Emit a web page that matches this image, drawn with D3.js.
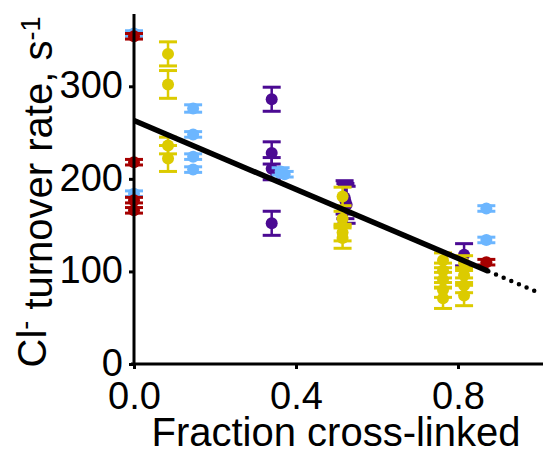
<!DOCTYPE html>
<html><head><meta charset="utf-8">
<script src="https://cdn.jsdelivr.net/npm/d3@7"></script>
<style>body{margin:0;background:#fff}svg{display:block}</style>
</head><body><svg id="c" width="543" height="453"></svg>
<script>
// [fraction cross-linked, turnover rate, error]
const redPts = [[0,354,3],[0,218,3],[0,177,3],[0,166,3],[0.87,110,3]];
const bluePts = [[0,357,3],[0,184,3],[0.146,276,4],[0.146,248,3],[0.146,224,3],[0.146,210,3],[0.362,208,4],[0.372,205,3],[0.87,168,3],[0.87,134,3]];
const yellowPts = [[0.084,335,13],[0.084,302,15],[0.084,236,9],[0.084,222,14],[0.515,181,10],[0.515,157,8],[0.515,142,9],[0.515,136,11],[0.763,112,8],[0.763,101,8],[0.763,91,8],[0.763,80,8],[0.763,71,11],[0.815,109,8],[0.815,96,8],[0.815,85,8],[0.815,74,11]];
const purplePts = [[0.34,286,13],[0.34,228,12],[0.34,211,12],[0.34,152,13],[0.52,180,18],[0.522,176,19],[0.525,172,20],[0.815,118,12]];
const fitIntercept = 263, fitSlope = -186;
const fitSolidX = [0, 0.875], fitDottedX = [0.875, 1.0];
const xTicks = [0, 0.4, 0.8], yTicks = [0, 100, 200, 300];

const svg = d3.select("#c");
const x = d3.scaleLinear().domain([0, 1]).range([134, 539]);
const y = d3.scaleLinear().domain([0, 377]).range([364, 15]);
const font = "'Liberation Sans', Arial, sans-serif";

const series = [
  {pts: purplePts, color: "#4b0a93"},
  {pts: yellowPts, color: "#dccb00"},
  {pts: bluePts, color: "#6cb6ff"},
  {pts: redPts, color: "#a50000"}
];
series.forEach(s => {
  const g = svg.append("g");
  s.pts.forEach(p => {
    const cx = x(p[0]);
    const y1 = y(p[1] + p[2]), y2 = y(p[1] - p[2]);
    g.append("line").attr("x1", cx).attr("x2", cx).attr("y1", y1).attr("y2", y2).attr("stroke", s.color).attr("stroke-width", 2.5);
    [y1, y2].forEach(yy => g.append("line").attr("x1", cx - 9).attr("x2", cx + 9).attr("y1", yy).attr("y2", yy).attr("stroke", s.color).attr("stroke-width", 3));
    g.append("circle").attr("cx", cx).attr("cy", y(p[1])).attr("r", 6).attr("fill", s.color);
  });
});

const fit = v => fitIntercept + fitSlope * v;
svg.append("line").attr("x1", x(fitSolidX[0])).attr("y1", y(fit(fitSolidX[0]))).attr("x2", x(fitSolidX[1])).attr("y2", y(fit(fitSolidX[1])))
  .attr("stroke", "#000").attr("stroke-width", 5.5);
svg.append("line").attr("x1", x(fitDottedX[0])).attr("y1", y(fit(fitDottedX[0]))).attr("x2", x(fitDottedX[1])).attr("y2", y(fit(fitDottedX[1])))
  .attr("stroke", "#000").attr("stroke-width", 4.5).attr("stroke-linecap", "round").attr("stroke-dasharray", "0 8.3");

// axes
const ax = svg.append("g").attr("transform", "translate(0,364)")
  .call(d3.axisBottom(x).tickValues(xTicks).tickFormat(d3.format(".1f")).tickSize(5).tickPadding(13));
const ay = svg.append("g").attr("transform", "translate(134,0)")
  .call(d3.axisLeft(y).tickValues(yTicks).tickSize(5).tickPadding(6));
[ax, ay].forEach(a => {
  a.select(".domain").remove();
  a.selectAll(".tick line").attr("stroke", "#000").attr("stroke-width", 3);
  a.selectAll(".tick text").attr("fill", "#000").style("font-family", font).style("font-size", "38px");
});
ay.selectAll(".tick text").attr("dy", "0.3em");
svg.append("line").attr("x1", 134).attr("x2", 134).attr("y1", 14).attr("y2", 365.5).attr("stroke", "#000").attr("stroke-width", 3);
svg.append("line").attr("x1", 131).attr("x2", 543).attr("y1", 364).attr("y2", 364).attr("stroke", "#000").attr("stroke-width", 3);

svg.append("text").attr("x", 336).attr("y", 446).attr("text-anchor", "middle")
  .style("font-family", font).style("font-size", "40px").text("Fraction cross-linked");

const yt = svg.append("text").attr("transform", "translate(46,192) rotate(-90)").attr("text-anchor", "middle")
  .style("font-family", font).style("font-size", "40px");
yt.append("tspan").text("Cl");
yt.append("tspan").attr("dy", "-0.45em").style("font-size", "27px").text("-");
yt.append("tspan").attr("dy", "0.45em").text(" turnover rate, s");
yt.append("tspan").attr("dy", "-0.45em").style("font-size", "27px").text("-1");
</script></body></html>
